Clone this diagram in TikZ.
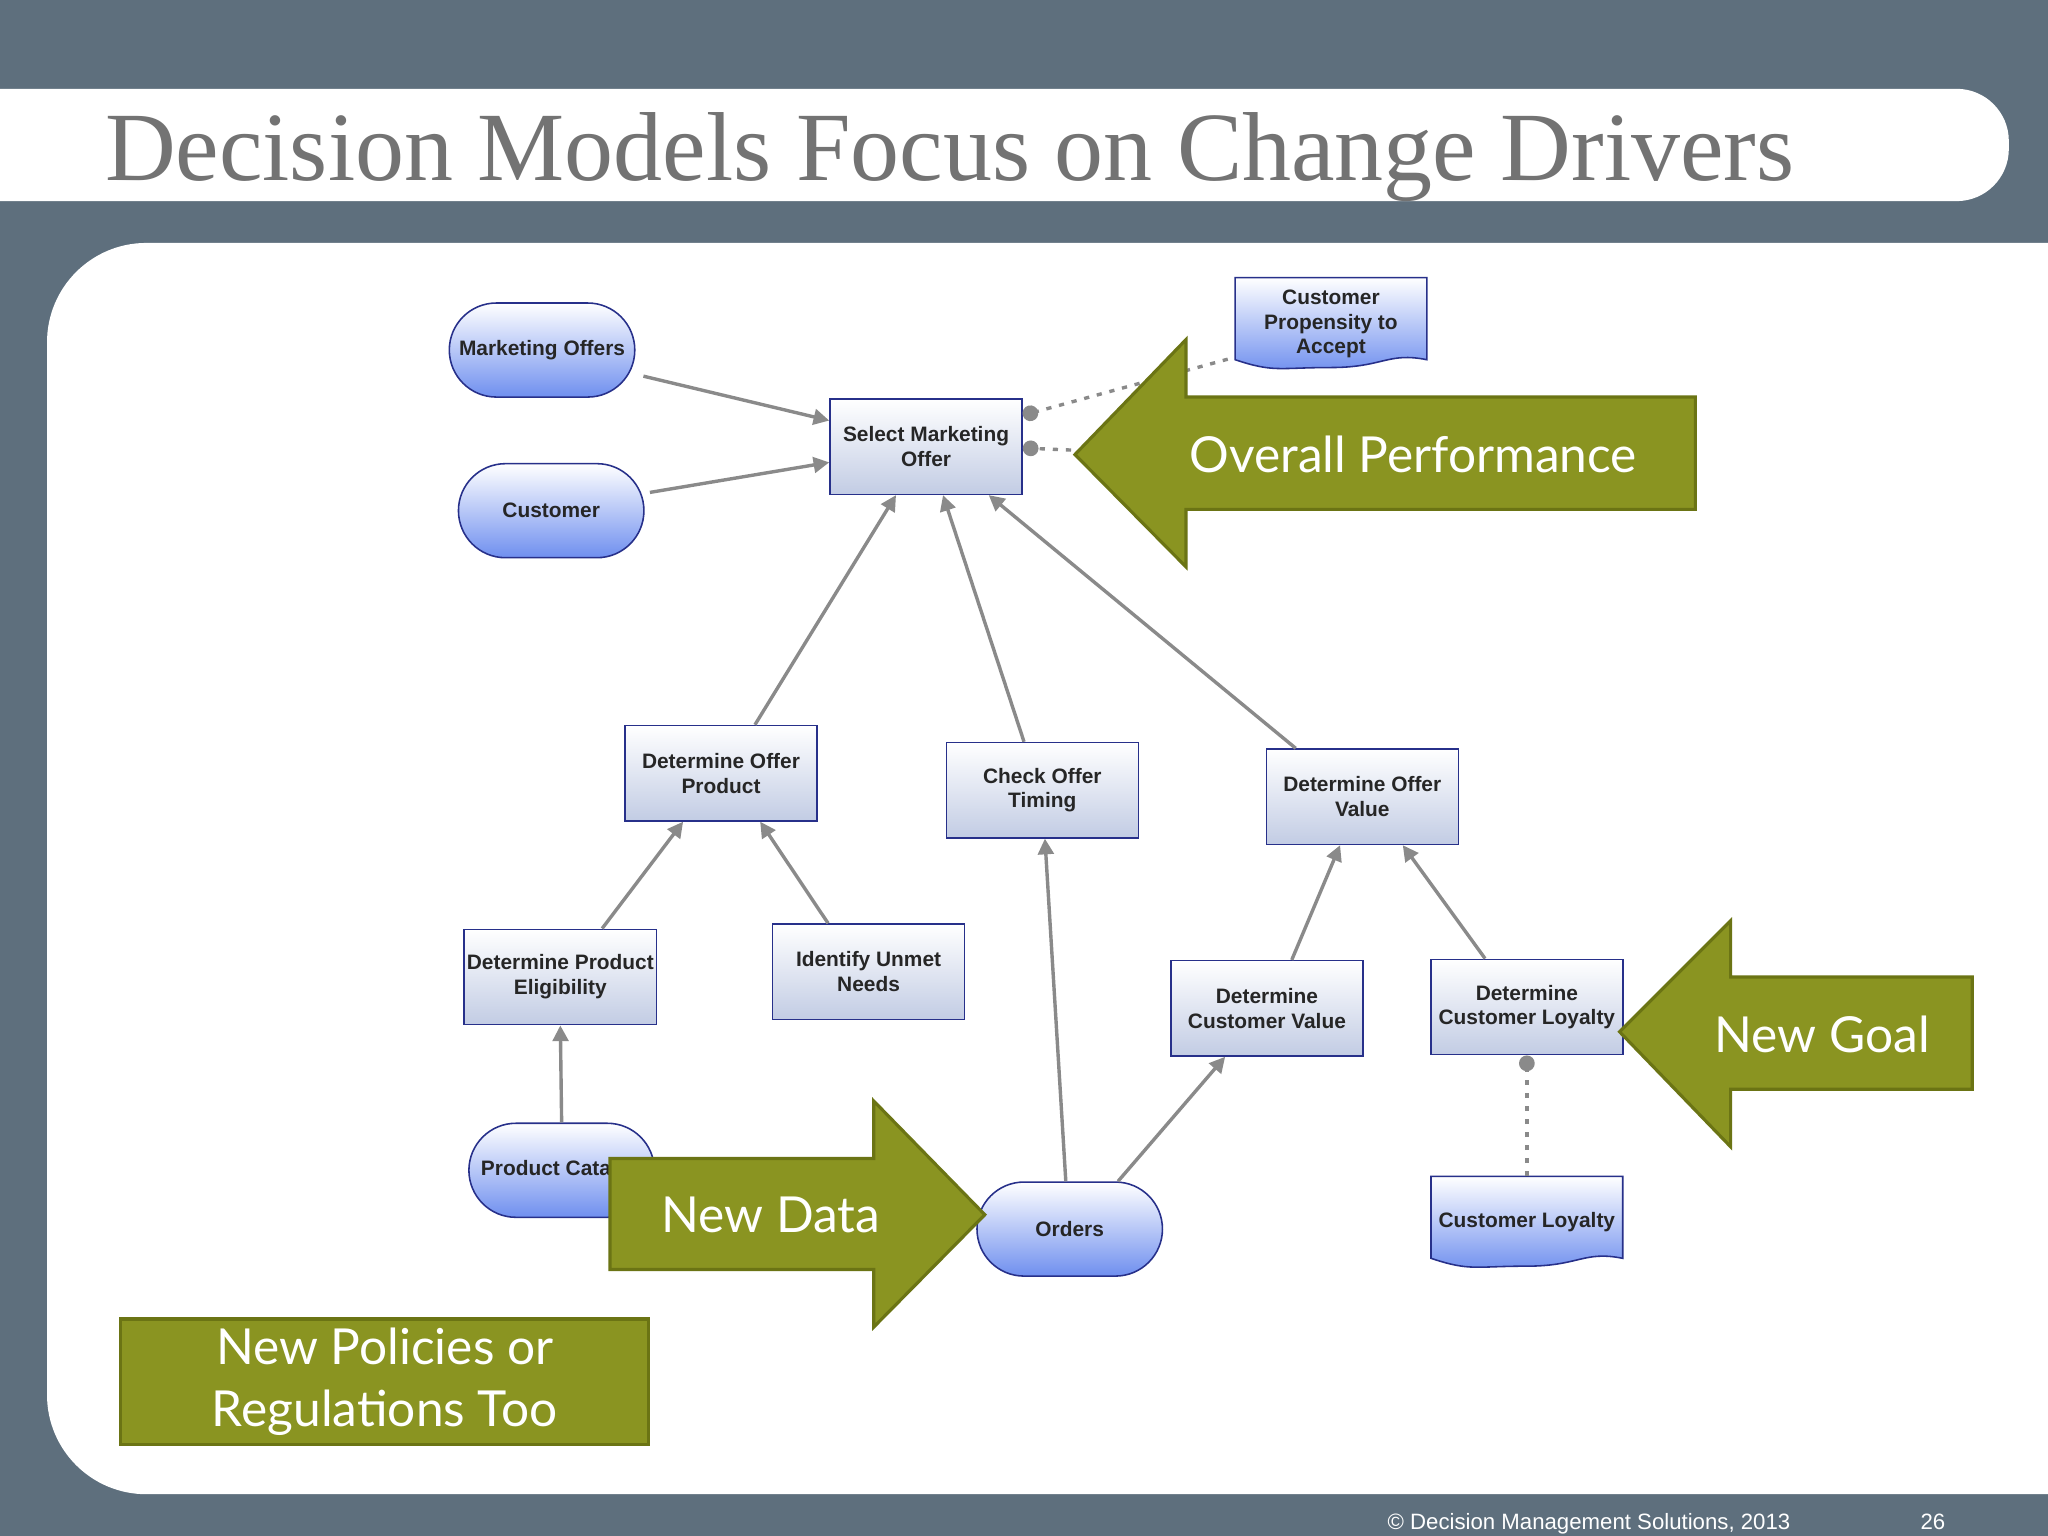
\documentclass[tikz,border=0pt]{standalone}
\usepackage{fontspec}
\setmainfont{Liberation Sans}
\newfontfamily\titlefont{Liberation Serif}
\newfontfamily\gillfont{Lato}
\usetikzlibrary{shapes.misc,backgrounds,arrows.meta,calc}
\definecolor{slate}{HTML}{5E6F7D}
\definecolor{olive}{HTML}{8A9421}
\definecolor{olived}{HTML}{6B7414}
\definecolor{nodeb}{HTML}{27308A}
\definecolor{ovblue}{HTML}{6F8FEF}
\definecolor{rcblue}{HTML}{C2CCE4}
\definecolor{edgeg}{HTML}{8A8A8A}
\tikzset{
 every node/.style={font=\bfseries\fontsize{8}{9.5}\selectfont, text=black!85, align=center},
 dec/.style={draw=nodeb, line width=0.6pt, top color=white, bottom color=rcblue, minimum width=73.5pt, minimum height=36.5pt, inner sep=1pt},
 dat/.style={rounded rectangle, draw=nodeb, line width=0.6pt, top color=white, bottom color=ovblue, minimum width=73pt, minimum height=36pt, inner sep=1pt},
 kn/.style={minimum width=73pt, minimum height=35pt, inner sep=1pt},
 docsh/.style={draw=nodeb, line width=0.6pt, top color=white, bottom color=ovblue},
 edge/.style={draw=edgeg, line width=1.3pt, -{Triangle[length=6pt,width=6pt]}},
 dotedge/.style={draw=edgeg, line width=1.3pt, dash pattern=on 2pt off 3pt, -{Circle[length=6pt]}},
 bigarrow/.style={fill=olive, draw=olived, line width=1.2pt},
 arrtext/.style={font=\gillfont\fontsize{19}{23}\selectfont, text=white}
}
\newcommand{\docshape}[1]{%
 \begin{pgfonlayer}{background}
 \path[docsh] (#1.north west) -- (#1.north east) -- ($(#1.south east)+(0,-8)$)
  .. controls +(-30,-6) and +(40,0) .. ($(#1.south)+(0,-2)$)
  .. controls +(-40,0) and +(30,10) .. ($(#1.south west)+(0,-8)$) -- cycle;
 \end{pgfonlayer}}
\newcommand{\off}[3]{($(#1)+(#2,#3)$)}
\begin{document}
\begin{tikzpicture}[x=0.5pt,y=-0.5pt]
\useasboundingbox (0,0) rectangle (1568,1176);
\begin{pgfonlayer}{background}
\clip (0,0) rectangle (1568,1176);
\fill[slate] (0,0) rectangle (1568,1176);
\fill[white,rounded corners=20pt] (-50,68) -- (1538,68) -- (1538,154) -- (-50,154) -- cycle;
\fill[white,rounded corners=38pt] (1700,186) -- (36,186) -- (36,1144) -- (1700,1144) -- cycle;
\end{pgfonlayer}
\node[anchor=base west, font=\titlefont\fontsize{37.5}{40}\selectfont, text=black!55, inner sep=0] (title) at (80,138) {Decision Models Focus on Change Drivers};
\node[anchor=base west, font=\fontsize{8.5}{10}\selectfont, text=white, inner sep=0] (foot) at (1062,1171) {© Decision Management Solutions, 2013};
\node[anchor=base west, font=\fontsize{8.5}{10}\selectfont, text=white, inner sep=0] (pg) at (1470,1171) {26};

\node[dat] (mo) at (415,268) {Marketing Offers};
\node[dat] (cu) at (422,391) {Customer};
\node[dec] (smo) at (709,342) {Select Marketing\\Offer};
\node[kn] (cpa) at (1019,248) {Customer\\Propensity to\\Accept};\docshape{cpa}
\node[dec] (dop) at (552,592) {Determine Offer\\Product};
\node[dec] (cot) at (798,605) {Check Offer\\Timing};
\node[dec] (dov) at (1043,610) {Determine Offer\\Value};
\node[dec] (dpe) at (429,748) {Determine Product\\Eligibility};
\node[dec] (iun) at (665,744) {Identify Unmet\\Needs};
\node[dec] (dcv) at (970,772) {Determine\\Customer Value};
\node[dec] (dcl) at (1169,771) {Determine\\Customer Loyalty};
\node[dat] (pc) at (430,896) {Product Catalog};
\node[dat] (ord) at (819,941) {Orders};
\node[kn] (cl) at (1169,936) {Customer Loyalty};\docshape{cl}

\draw[edge] \off{mo.east}{6}{20} -- \off{smo.west}{0}{-20};
\draw[edge] \off{cu.east}{4}{-14} -- \off{smo.west}{0}{12};
\draw[edge] \off{dop.north}{26}{0} -- \off{smo.south}{-23}{0};
\draw[edge] \off{cot.north}{-14}{0} -- \off{smo.south}{13}{0};
\draw[edge] \off{dov.north}{-51}{0} -- \off{smo.south}{48}{0};
\draw[edge] \off{dpe.north}{32}{0} -- \off{dop.south}{-29}{0};
\draw[edge] \off{iun.north}{-31}{0} -- \off{dop.south}{30}{0};
\draw[edge] \off{ord.north}{-3}{0} -- \off{cot.south}{2}{0};
\draw[edge] \off{ord.north}{37}{0} -- \off{dcv.south}{-32}{0};
\draw[edge] \off{dcv.north}{19}{0} -- \off{dov.south}{-17}{0};
\draw[edge] \off{dcl.north}{-32}{0} -- \off{dov.south}{31}{0};
\draw[edge] (pc.north) -- (dpe.south);
\draw[dotedge] (cl.north) -- (dcl.south);
\coordinate (c1) at (940,275);
\coordinate (c2) at (830,345);
\draw[dotedge] (c1) -- \off{smo.east}{0}{-24};
\draw[dotedge] (c2) -- \off{smo.east}{0}{1};

\path[bigarrow] (823,348) -- (908,260) -- (908,304) -- (1298,304) -- (1298,390) -- (908,390) -- (908,434) -- cycle;
\node[arrtext] (op) at (1082,348) {Overall Performance};
\path[bigarrow] (1240,790) -- (1325,705) -- (1325,748) -- (1510,748) -- (1510,834) -- (1325,834) -- (1325,878) -- cycle;
\node[arrtext] (ng) at (1395,792) {New Goal};
\path[bigarrow] (754,930) -- (669,843) -- (669,887) -- (467,887) -- (467,972) -- (669,972) -- (669,1016) -- cycle;
\node[arrtext] (nd) at (590,930) {New Data};
\node[bigarrow, arrtext, minimum width=202pt, minimum height=46pt, font=\gillfont\fontsize{19}{24}\selectfont] (np) at (294.5,1058) {New Policies or\\Regulations Too};
\end{tikzpicture}
\end{document}
